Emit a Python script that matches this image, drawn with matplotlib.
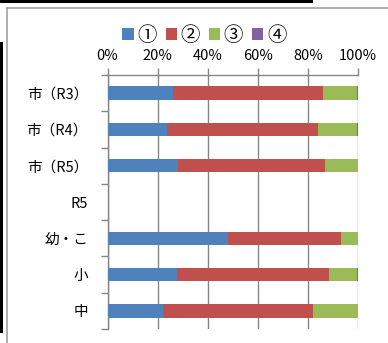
import matplotlib.pyplot as plt
from matplotlib.lines import Line2D
import numpy as np

plt.rcParams['font.family'] = ['Noto Sans CJK JP', 'DejaVu Sans']

categories = ["市（R3）", "市（R4）", "市（R5）", "R5", "幼・こ", "小", "中"]
series_names = ["①", "②", "③", "④"]
v1 = [26.1, 23.6, 28.1, 0, 48.3, 27.7, 22.1]
v2 = [59.8, 60.5, 58.7, 0, 45.0, 60.8, 60.0]
v3 = [13.7, 15.5, 13.2, 0, 6.7, 11.1, 17.9]
v4 = [0.4, 0.4, 0.0, 0, 0.0, 0.4, 0.0]
colors = ["#4F81BD", "#C0504D", "#9BBB59", "#8064A2"]

W, H = 388, 343
fig = plt.figure(figsize=(W / 100, H / 100), dpi=100)
ax = fig.add_axes([107.5 / W, 1 - 329 / H, 250.5 / W, 254 / H])

y = np.arange(len(categories))
left = np.zeros(len(categories))
for vals, name, c in zip([v1, v2, v3, v4], series_names, colors):
    ax.barh(y, vals, left=left, height=0.37, color=c, label=name, zorder=3)
    left += np.array(vals)

ax.set_xlim(0, 100)
ax.set_ylim(len(categories) - 0.5, -0.5)
ax.set_xticks(range(0, 101, 20))
ax.set_xticklabels([f"{t}%" for t in range(0, 101, 20)])
ax.xaxis.tick_top()
ax.set_yticks(y)
ax.set_yticklabels(categories)
ax.set_yticks(np.arange(-0.5, len(categories), 1), minor=True)
ax.tick_params(axis='y', which='major', length=0, pad=14, labelsize=10.5)
ax.tick_params(axis='y', which='minor', length=5, width=1, color="#868686")
ax.tick_params(axis='x', length=5, width=1, color="#868686", pad=4, labelsize=10.5)
ax.grid(axis='x', color="#868686", linewidth=1, zorder=0)

for s in ['bottom', 'right']:
    ax.spines[s].set_visible(False)
for s in ['top', 'left']:
    ax.spines[s].set_color("#868686")
    ax.spines[s].set_linewidth(1)

fig.legend(loc='center', bbox_to_anchor=(204.5 / W, 1 - 35.5 / H), ncol=4,
           frameon=False, handlelength=0.57, handleheight=0.57,
           handletextpad=0.2, columnspacing=0.45, fontsize=14)

# frame lines around the chart
fig.add_artist(Line2D([0, 311 / W], [1 - 1 / H, 1 - 1 / H], color="black", linewidth=2.2))
fig.add_artist(Line2D([7 / W, 1], [1 - 8 / H, 1 - 8 / H], color="#a0a0a0", linewidth=1.2))
fig.add_artist(Line2D([7 / W, 7 / W], [0, 1 - 8 / H], color="#a0a0a0", linewidth=1.2))
fig.add_artist(Line2D([1 / W, 1 / W], [1 - 331 / H, 1 - 43 / H], color="black", linewidth=2.2))

fig.savefig("out.png", dpi=100)
